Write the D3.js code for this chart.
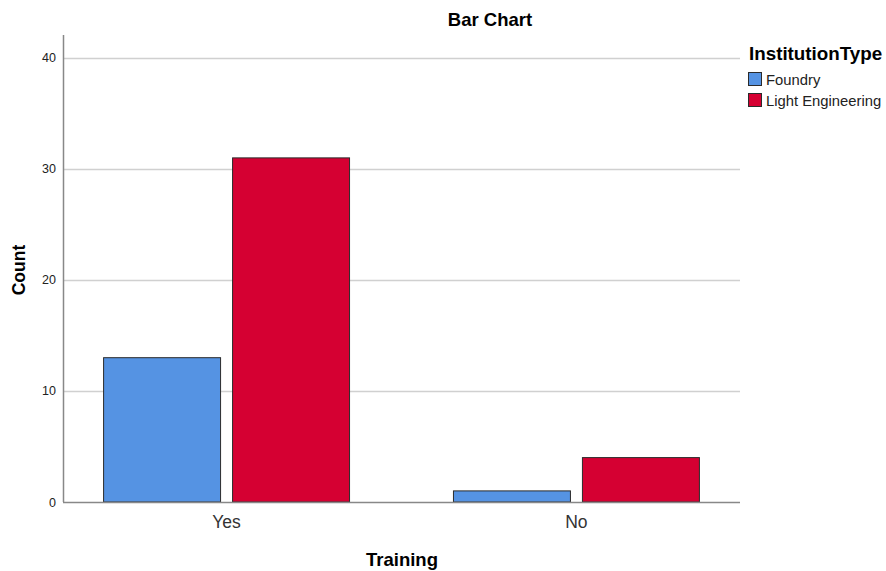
<!DOCTYPE html>
<html>
<head>
<meta charset="utf-8">
<script src="https://cdn.jsdelivr.net/npm/d3@7"></script>
<style>
  body { margin: 0; background: #fff; }
  svg { font-family: "Liberation Sans", Arial, sans-serif; }
</style>
</head>
<body>
<div id="chart"></div>
<script>
// data
const categories = ["Yes", "No"];
const seriesNames = ["Foundry", "Light Engineering"];
const foundryCounts = [13, 1];
const lightEngCounts = [31, 4];
const yTicks = [0, 10, 20, 30, 40];
const colors = ["#5593e3", "#d50032"];

const width = 886, height = 571;
const plot = { left: 63, right: 740, top: 35, bottom: 502 };

const svg = d3.select("#chart").append("svg")
    .attr("width", width)
    .attr("height", height);

const x = d3.scaleBand()
    .domain(categories)
    .range([plot.left, plot.right])
    .paddingInner(0.297)
    .paddingOuter(0.116);

const xSub = d3.scaleBand()
    .domain(seriesNames)
    .range([0, x.bandwidth()])
    .paddingInner(0.093);

const y = d3.scaleLinear()
    .domain([0, 42.07])
    .range([plot.bottom, plot.top]);

// gridlines
svg.append("g")
    .selectAll("line")
    .data(yTicks.filter(d => d > 0))
    .enter()
    .append("line")
    .attr("x1", plot.left)
    .attr("x2", plot.right)
    .attr("y1", d => Math.round(y(d)) + 0.5)
    .attr("y2", d => Math.round(y(d)) + 0.5)
    .attr("stroke", "#d0d0d0")
    .attr("stroke-width", 1.5);

// y tick labels
svg.append("g")
    .selectAll("text")
    .data(yTicks)
    .enter()
    .append("text")
    .attr("x", plot.left - 7)
    .attr("y", d => y(d) + 4.5)
    .attr("text-anchor", "end")
    .attr("font-size", 12.5)
    .attr("fill", "#222")
    .text(d => d);

// bars
const rows = categories.map((c, i) => ({
    cat: c,
    values: [foundryCounts[i], lightEngCounts[i]]
}));

const groups = svg.append("g")
    .selectAll("g")
    .data(rows)
    .enter()
    .append("g")
    .attr("transform", d => "translate(" + x(d.cat) + ",0)");

groups.selectAll("rect")
    .data(d => d.values.map((v, j) => ({ key: seriesNames[j], value: v, idx: j })))
    .enter()
    .append("rect")
    .attr("x", d => xSub(d.key))
    .attr("y", d => y(d.value))
    .attr("width", xSub.bandwidth())
    .attr("height", d => y(0) - y(d.value))
    .attr("fill", d => colors[d.idx])
    .attr("stroke", "#2b2b2b")
    .attr("stroke-width", 1);

// axis lines
svg.append("line")
    .attr("x1", plot.left + 0.5).attr("x2", plot.left + 0.5)
    .attr("y1", plot.top).attr("y2", plot.bottom)
    .attr("stroke", "#888").attr("stroke-width", 1.5);
svg.append("line")
    .attr("x1", plot.left).attr("x2", plot.right)
    .attr("y1", plot.bottom + 0.5).attr("y2", plot.bottom + 0.5)
    .attr("stroke", "#888").attr("stroke-width", 1.5);

// x tick labels
svg.append("g")
    .selectAll("text")
    .data(categories)
    .enter()
    .append("text")
    .attr("x", d => x(d) + x.bandwidth() / 2)
    .attr("y", 528)
    .attr("text-anchor", "middle")
    .attr("font-size", 17.5)
    .attr("fill", "#333")
    .text(d => d);

// titles
svg.append("text")
    .attr("x", 490).attr("y", 25.5)
    .attr("text-anchor", "middle")
    .attr("font-size", 18.5).attr("font-weight", "bold")
    .text("Bar Chart");

svg.append("text")
    .attr("x", 402).attr("y", 566)
    .attr("text-anchor", "middle")
    .attr("font-size", 18.5).attr("font-weight", "bold")
    .text("Training");

svg.append("text")
    .attr("transform", "translate(25,270) rotate(-90)")
    .attr("text-anchor", "middle")
    .attr("font-size", 17.5).attr("font-weight", "bold")
    .text("Count");

// legend
const legend = svg.append("g").attr("transform", "translate(748,0)");
legend.append("text")
    .attr("x", 1).attr("y", 60)
    .attr("font-size", 18.8).attr("font-weight", "bold")
    .text("InstitutionType");

const items = legend.selectAll("g.item")
    .data(seriesNames)
    .enter()
    .append("g")
    .attr("class", "item")
    .attr("transform", (d, i) => "translate(0," + (72 + i * 21) + ")");

items.append("rect")
    .attr("x", 0.5).attr("y", 0.5)
    .attr("width", 13).attr("height", 13)
    .attr("fill", (d, i) => colors[i])
    .attr("stroke", "#2b2b2b");

items.append("text")
    .attr("x", 18).attr("y", 13)
    .attr("font-size", 14.8)
    .attr("fill", "#222")
    .text(d => d);
</script>
</body>
</html>
